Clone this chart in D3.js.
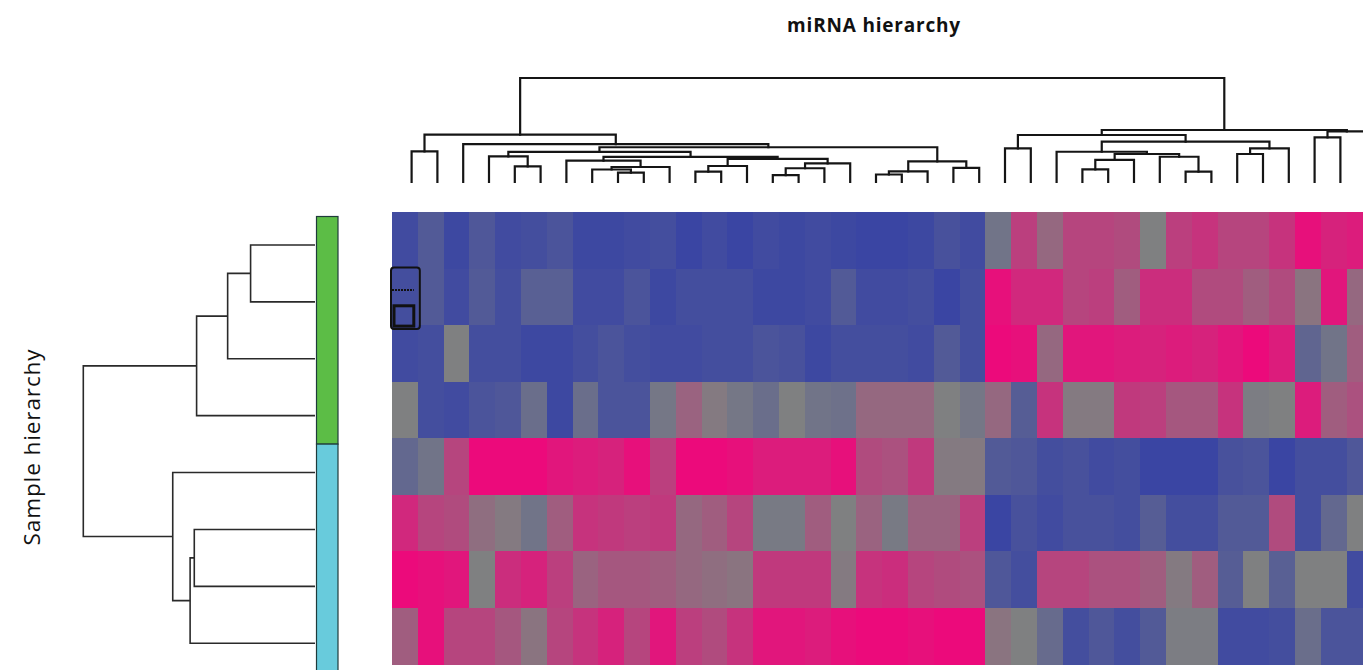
<!DOCTYPE html>
<html>
<head>
<meta charset="utf-8">
<script src="https://cdn.jsdelivr.net/npm/d3@7"></script>
<style>
  html, body { margin: 0; padding: 0; background: #fff; overflow: hidden; }
  svg { display: block; }
</style>
</head>
<body>
<script>
// Expression matrix: one row per sample, one value per miRNA column (z-score like, -1 .. 1)
const sample1 = [-0.9,-0.65,-0.95,-0.7,-0.9,-0.85,-0.75,-0.95,-0.95,-0.9,-0.85,-1,-0.9, -1,-0.9,-0.95,-0.9,-0.95,-1,-1,-0.95,-0.8,-0.9, -0.2,0.55,0.2,0.5,0.5,0.45,0.0,0.55,0.65,0.5,0.5,0.65,0.95,0.8,0.85];
const sample2 = [-0.85,-0.65,-0.9,-0.65,-0.85,-0.55,-0.55,-0.9,-0.9,-0.75,-0.95,-0.85,-0.85, -0.85,-0.95,-0.95,-0.9,-0.65,-0.9,-0.9,-0.85,-1,-0.85, 0.95,0.75,0.75,0.5,0.55,0.3,0.7,0.7,0.45,0.45,0.3,0.45,0.1,0.9,0.2];
const sample3 = [-0.9,-0.85,0.0,-0.85,-0.85,-0.95,-0.95,-0.85,-0.75,-0.85,-0.9,-0.9,-0.85, -0.85,-0.75,-0.8,-0.95,-0.85,-0.85,-0.85,-0.9,-0.65,-0.85, 1.0,0.95,0.2,0.9,0.9,0.85,0.8,0.85,0.8,0.9,1.0,0.85,-0.45,-0.2,0.3];
const sample4 = [0.0,-0.85,-0.9,-0.75,-0.7,-0.3,-0.95,-0.3,-0.75,-0.75,-0.15,0.25,0.05, -0.15,-0.3,0.0,-0.2,-0.25,0.2,0.2,0.2,0.0,-0.15, 0.2,-0.6,0.65,0.05,0.05,0.6,0.55,0.35,0.35,0.65,-0.05,0.0,0.85,0.3,0.4];
const sample5 = [-0.4,-0.2,0.5,1.0,1.0,1.0,0.9,0.85,0.8,0.95,0.55,1.0,1.0, 0.95,0.85,0.85,0.85,0.95,0.45,0.4,0.6,0.05,0.05, -0.65,-0.7,-0.85,-0.8,-0.9,-0.85,-1,-1,-1,-0.8,-0.75,-1,-0.85,-0.85,-0.7];
const sample6 = [0.75,0.5,0.45,0.15,0.05,-0.2,0.3,0.65,0.6,0.55,0.6,0.2,0.3, 0.5,-0.1,-0.1,0.3,0.0,0.25,-0.1,0.25,0.25,0.55, -1,-0.8,-0.9,-0.8,-0.8,-0.85,-0.6,-0.85,-0.85,-0.65,-0.65,0.45,-0.85,-0.4,0.0];
const sample7 = [1.0,0.95,0.9,0.0,0.7,0.8,0.55,0.25,0.35,0.35,0.3,0.2,0.15, 0.1,0.6,0.6,0.6,0.05,0.65,0.7,0.5,0.45,0.4, -0.7,-0.85,0.5,0.5,0.4,0.4,0.3,0.05,0.3,-0.6,0.0,-0.55,0.0,0.0,-0.9];
const sample8 = [0.3,0.95,0.5,0.5,0.35,0.1,0.5,0.65,0.8,0.5,0.9,0.55,0.45, 0.65,0.9,0.9,0.85,0.95,1.0,1.0,0.95,1.0,1.0, 0.1,0.0,-0.35,-0.85,-0.7,-0.85,-0.65,-0.05,-0.05,-0.9,-0.9,-0.85,-0.3,-0.75,-0.75];

// Sample cluster membership (side colour bar)
const sampleGroups = ["G1","G1","G1","G1","G2","G2","G2","G2"];
const groupColors = { G1: "#5cbd46", G2: "#68cbdc" };

// miRNA linkage: [left, right, height]; numbers are leaf columns, "#k" refers to merge k
const colMerges = [
  [0, 1, 2.95],        // 0
  [4, 5, 1.51],        // 1
  [3, "#1", 2.47],     // 2
  [8, 9, 0.91],        // 3
  [7, "#3", 1.2],      // 4
  ["#4", 10, 1.44],    // 5
  [6, "#5", 2.05],     // 6
  [11, 12, 0.99],      // 7
  ["#7", 13, 1.54],    // 8
  [14, 15, 0.67],      // 9
  ["#9", 16, 1.32],    // 10
  ["#10", 17, 1.8],    // 11
  ["#8", "#11", 2.23], // 12
  ["#6", "#12", 2.42], // 13
  ["#2", "#13", 2.9],  // 14
  [18, 19, 0.72],      // 15
  ["#15", 20, 1.03],   // 16
  [21, 22, 1.35],      // 17
  ["#16", "#17", 1.99],// 18
  ["#14", "#18", 3.34],// 19
  [2, "#19", 3.65],    // 20
  ["#0", "#20", 4.55], // 21
  [23, 24, 3.24],      // 22
  [26, 27, 1.22],      // 23
  ["#23", 28, 2.12],   // 24
  [30, 31, 0.99],      // 25
  [29, "#25", 2.43],   // 26
  ["#24", "#26", 2.69],// 27
  [25, "#27", 2.91],   // 28
  [32, 33, 2.69],      // 29
  ["#29", 34, 3.24],   // 30
  ["#28", "#30", 3.88],// 31
  ["#22", "#31", 4.52],// 32
  [35, 36, 4.3],       // 33
  ["#33", 37, 4.86],   // 34
  ["#32", "#34", 5.0], // 35
  ["#21", "#35", 10.0] // 36
];

// Sample linkage
const rowMerges = [
  [0, 1, 2.78],
  ["#0", 2, 3.77],
  ["#1", 3, 5.11],
  [5, 6, 5.21],
  ["#3", 7, 5.39],
  [4, "#4", 6.14],
  ["#2", "#5", 10.0]
];

const titleText = "miRNA hierarchy";
const sideTitle = "Sample hierarchy";

const matrix = [sample1, sample2, sample3, sample4, sample5, sample6, sample7, sample8];
const nRows = matrix.length;
const nCols = sample1.length;

const W = 1363, H = 670;
const svg = d3.select("body").append("svg").attr("width", W).attr("height", H);

// Scales
const cellW = 25.8;
const x = d3.scaleBand().domain(d3.range(nCols)).range([392, 392 + cellW * nCols]).paddingInner(0);
const y = d3.scaleBand().domain(d3.range(nRows)).range([212, 664]).paddingInner(0);
const color = d3.scaleLinear().domain([-1, 0, 1]).range(["#3a45a3", "#7f8081", "#ec0a7b"]).clamp(true);

// Heatmap cells
const cells = [];
matrix.forEach((row, r) => row.forEach((v, c) => cells.push({ r, c, v })));
svg.append("g").attr("class", "cells")
  .selectAll("rect").data(cells).join("rect")
  .attr("x", d => x(d.c))
  .attr("y", d => y(d.r))
  .attr("width", x.bandwidth() + 0.5)
  .attr("height", y.bandwidth() + 0.5)
  .attr("fill", d => color(d.v))
  .attr("shape-rendering", "crispEdges");

// Selection marks at the left edge of the heatmap
const mark = svg.append("g").attr("fill", "none").attr("stroke", "#111");
mark.append("rect").attr("x", x(0) - 1).attr("y", y(1) - 1).attr("width", x.bandwidth() + 3).attr("height", y.bandwidth() + 5)
  .attr("rx", 3).attr("stroke-width", 2);
mark.append("rect").attr("x", x(0) + 2).attr("y", y(1) + y.bandwidth() * 0.66).attr("width", x.bandwidth() - 6).attr("height", y.bandwidth() * 0.36)
  .attr("stroke-width", 3);
mark.append("line").attr("x1", x(0)).attr("x2", x(0) + x.bandwidth() - 4)
  .attr("y1", y(1) + y.bandwidth() * 0.38).attr("y2", y(1) + y.bandwidth() * 0.38)
  .attr("stroke-width", 2).attr("stroke-dasharray", "2,1");

// Linkage layout: each merge sits midway between its two children
function layoutMerges(merges, leafPos) {
  const nodes = [];
  const get = ref => typeof ref === "number" ? { pos: leafPos(ref), h: 0 } : nodes[+ref.slice(1)];
  merges.forEach(([a, b, h]) => {
    const A = get(a), B = get(b);
    nodes.push({ a: A, b: B, h, pos: (A.pos + B.pos) / 2 });
  });
  return nodes;
}

// Column dendrogram (top)
const colLeaf = i => x.range()[0] + (i + 0.5) * x.step() + 6.7;
const colH = d3.scaleLinear().domain([0, 10]).range([182, 78]);
const colNodes = layoutMerges(colMerges, colLeaf);
svg.append("g").attr("class", "col-dendro")
  .selectAll("path").data(colNodes).join("path")
  .attr("d", d => `M${d.a.pos},${colH(d.a.h)}V${colH(d.h)}H${d.b.pos}V${colH(d.b.h)}`)
  .attr("fill", "none").attr("stroke", "#151515").attr("stroke-width", 2.2)
  .attr("stroke-linejoin", "miter").attr("stroke-linecap", "square");

// Row dendrogram (left)
const sideRows = d3.scaleBand().domain(d3.range(nRows)).range([216.5, 216.5 + 56.9 * nRows]);
const rowLeaf = i => sideRows(i) + sideRows.bandwidth() / 2;
const rowH = d3.scaleLinear().domain([0, 10]).range([315, 83.3]);
const rowNodes = layoutMerges(rowMerges, rowLeaf);
svg.append("g").attr("class", "row-dendro")
  .selectAll("path").data(rowNodes).join("path")
  .attr("d", d => `M${rowH(d.a.h)},${d.a.pos}H${rowH(d.h)}V${d.b.pos}H${rowH(d.b.h)}`)
  .attr("fill", "none").attr("stroke", "#2a2a2a").attr("stroke-width", 1.6);

// Sample group colour bar: one block per consecutive run of the same group
const groupRuns = [];
sampleGroups.forEach((g, i) => {
  const last = groupRuns[groupRuns.length - 1];
  if (last && last.group === g) last.end = i;
  else groupRuns.push({ group: g, start: i, end: i });
});
svg.append("g").attr("class", "groups")
  .selectAll("rect").data(groupRuns).join("rect")
  .attr("x", 316.5)
  .attr("y", d => sideRows(d.start))
  .attr("width", 21.5)
  .attr("height", d => sideRows(d.end) + sideRows.bandwidth() - sideRows(d.start))
  .attr("fill", d => groupColors[d.group])
  .attr("stroke", "#1f3b3b").attr("stroke-width", 1.2);

// Titles
svg.append("text")
  .attr("x", 874).attr("y", 32)
  .attr("text-anchor", "middle")
  .attr("font-family", "'Open Sans', sans-serif")
  .attr("font-weight", "bold")
  .attr("font-size", 19)
  .attr("letter-spacing", 0.8)
  .attr("fill", "#111")
  .text(titleText);

svg.append("text")
  .attr("transform", "translate(40,447) rotate(-90)")
  .attr("text-anchor", "middle")
  .attr("font-family", "'Open Sans', sans-serif")
  .attr("font-size", 22.5)
  .attr("letter-spacing", 0.9)
  .attr("fill", "#111")
  .text(sideTitle);
</script>
</body>
</html>
